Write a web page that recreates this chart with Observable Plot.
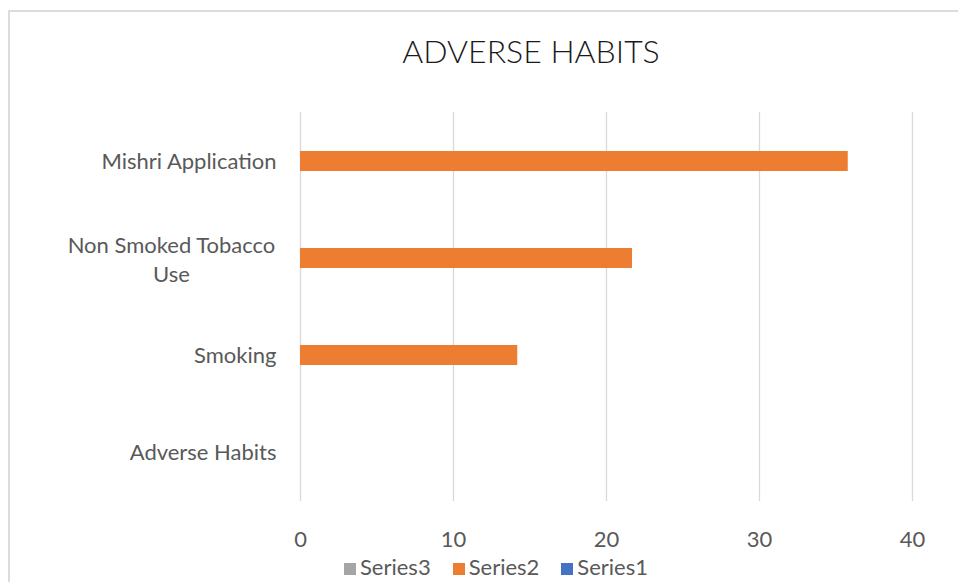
<!DOCTYPE html>
<html>
<head>
<meta charset="utf-8">
<script src="https://cdn.jsdelivr.net/npm/d3@7"></script>
<script src="https://cdn.jsdelivr.net/npm/@observablehq/plot@0.6"></script>
<style>
  body { margin: 0; background: #fff; }
  #chart { position: relative; width: 958px; height: 582px; overflow: hidden; background: #fff; font-family: Lato, "Open Sans", sans-serif; }
  #frame { position: absolute; left: 8px; top: 10px; width: 1000px; height: 700px; border: 2px solid #dcdcdc; box-sizing: border-box; }
  #title { position: absolute; left: 0; width: 1062px; top: 31px; text-align: center; font-size: 32px; color: #1a1a1a; font-weight: 300; }
  #plot { position: absolute; left: 0; top: 0; }
  #legend { position: absolute; left: 0; width: 992px; top: 556px; text-align: center; font-size: 22px; line-height: 21px; color: #595959; white-space: nowrap; }
  .item { display: inline-block; margin: 0 11px; }
  .sw { display: inline-block; width: 12px; height: 12px; margin-right: 4px; vertical-align: 0px; }
</style>
</head>
<body>
<div id="chart">
  <div id="frame"></div>
  <div id="title"></div>
  <div id="plot"></div>
  <div id="legend"></div>
</div>
<script>
const title = "ADVERSE HABITS";
const categories = ["Mishri Application", "Non Smoked Tobacco Use", "Smoking", "Adverse Habits"];
const series2 = [35.8, 21.7, 14.2, null];
const xTicks = [0, 10, 20, 30, 40];
const legendNames = ["Series3", "Series2", "Series1"];

const legendColors = {Series3: "#A5A5A5", Series2: "#ED7D31", Series1: "#4472C4"};
const wrapped = "Non Smoked Tobacco Use";

const data = categories.map((c, i) => ({category: c, value: series2[i]})).filter(d => d.value != null);

document.getElementById("title").textContent = title;

const chart = Plot.plot({
  width: 958,
  height: 560,
  marginLeft: 300,
  marginRight: 46,
  marginTop: 112,
  marginBottom: 59,
  style: {fontFamily: "Lato, 'Open Sans', sans-serif", fontSize: "22px", color: "#595959", background: "transparent", overflow: "visible"},
  x: {domain: [0, 40], ticks: xTicks, label: null},
  y: {type: "band", domain: categories, paddingInner: 0.79, paddingOuter: 0.395, label: null},
  marks: [
    Plot.gridX(xTicks, {stroke: "#d9d9d9", strokeOpacity: 1, strokeWidth: 1.3}),
    Plot.barX(data, {x: "value", y: "category", fill: legendColors.Series2}),
    Plot.axisX({ticks: xTicks, tickSize: 0, tickPadding: 30, fontSize: 22, fill: "#595959", label: null}),
    Plot.axisY({ticks: categories.filter(c => c !== wrapped), tickSize: 0, tickPadding: 24, fontSize: 22, fill: "#595959", label: null}),
    Plot.axisY({ticks: [wrapped], tickSize: 0, tickPadding: 129, textAnchor: "middle", lineHeight: 1.3, fontSize: 22, fill: "#595959", label: null,
      tickFormat: () => "Non Smoked Tobacco\nUse"})
  ]
});
document.getElementById("plot").appendChild(chart);

const legend = document.getElementById("legend");
legendNames.forEach(n => {
  const it = document.createElement("span");
  it.className = "item";
  const sw = document.createElement("span");
  sw.className = "sw";
  sw.style.background = legendColors[n];
  it.appendChild(sw);
  it.appendChild(document.createTextNode(n));
  legend.appendChild(it);
});
</script>
</body>
</html>
